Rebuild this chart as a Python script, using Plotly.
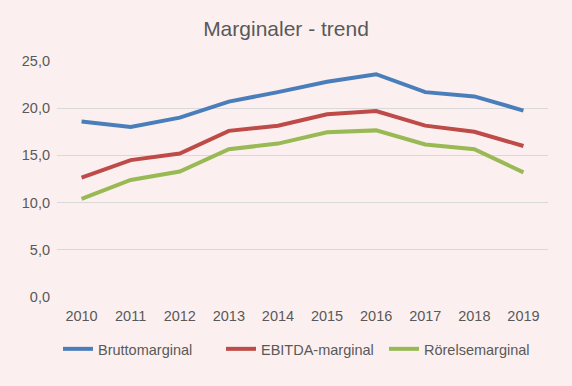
import plotly.graph_objects as go

years = ["2010", "2011", "2012", "2013", "2014", "2015", "2016", "2017", "2018", "2019"]
brutto = [18.6, 18.0, 19.0, 20.7, 21.7, 22.8, 23.6, 21.7, 21.25, 19.75]
ebitda = [12.65, 14.5, 15.2, 17.6, 18.15, 19.35, 19.7, 18.15, 17.5, 16.0]
rorelse = [10.4, 12.4, 13.3, 15.65, 16.25, 17.45, 17.65, 16.15, 15.65, 13.2]
y_ticks = [0, 5, 10, 15, 20, 25]
y_labels = ["0,0", "5,0", "10,0", "15,0", "20,0", "25,0"]

fig = go.Figure()
for name, vals, col in [("Bruttomarginal", brutto, "#4A7EBB"),
                        ("EBITDA-marginal", ebitda, "#BE4B48"),
                        ("Rörelsemarginal", rorelse, "#98B954")]:
    fig.add_trace(go.Scatter(x=years, y=vals, mode="lines", name=name,
                             line=dict(color=col, width=4)))

fig.update_layout(
    width=572, height=386,
    paper_bgcolor="#FBF0EF", plot_bgcolor="#FBF0EF",
    margin=dict(l=57, r=24, t=61, b=89),
    title=dict(text="Marginaler - trend", x=0.5, xanchor="center", y=0.927, yanchor="middle",
               font=dict(family="Liberation Sans, Arial", size=21, color="#595959")),
    font=dict(family="Liberation Sans, Arial", size=14, color="#595959"),
    xaxis=dict(type="category", range=[-0.5, 9.5], showgrid=False, showline=False,
               ticks="", ticklabelstandoff=8, tickfont=dict(size=14.5, color="#595959")),
    yaxis=dict(range=[0, 25], tickvals=y_ticks, ticktext=y_labels, showgrid=True,
               gridcolor="#D9D9D9", gridwidth=1, zeroline=False, showline=False,
               ticks="", ticklabelstandoff=6, tickfont=dict(size=14.5, color="#595959")),
    legend=dict(orientation="h", x=0.5, xanchor="center", y=-0.22, yanchor="middle",
                font=dict(size=14.5, color="#595959"), itemwidth=30,
                entrywidth=118, entrywidthmode="pixels",
                bgcolor="rgba(0,0,0,0)"),
    showlegend=True,
)
fig.write_html("out.html", config={"displayModeBar": False},
               post_script="document.body.style.margin='0';")
